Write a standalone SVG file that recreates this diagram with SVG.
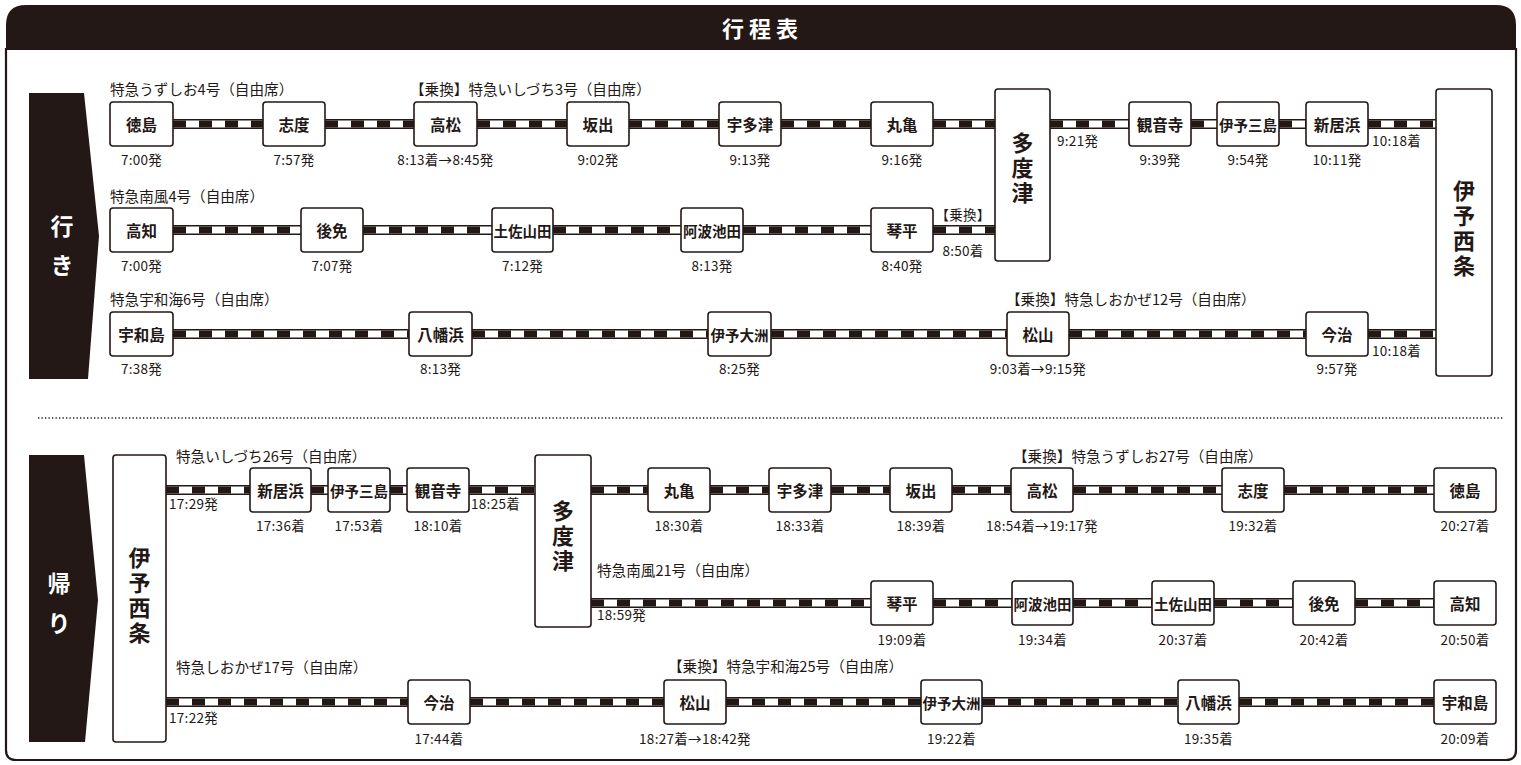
<svg xmlns="http://www.w3.org/2000/svg" width="1521" height="765" viewBox="0 0 1521 765">
<style>
text{font-family:"Noto Sans CJK JP","Noto Sans",sans-serif;fill:#231815;dominant-baseline:central}
.box{fill:#fff;stroke:#231815;stroke-width:1.6}
.st{font-size:15.5px;font-weight:700;text-anchor:middle}
.st4{font-size:14.5px;font-weight:700;text-anchor:middle}
.big{font-size:22px;font-weight:700;text-anchor:middle;writing-mode:vertical-rl;letter-spacing:3px}
.tm{font-size:13.5px;text-anchor:middle;letter-spacing:0.3px}
.ts{font-size:13.5px;text-anchor:start;letter-spacing:0.3px}
.tl{font-size:14.6px;text-anchor:start}
.wt{fill:#fff;font-weight:700;text-anchor:middle}
.to{stroke:#231815;stroke-width:10}
.ti{stroke:#fff;stroke-width:7}
.td{stroke:#231815;stroke-width:7;stroke-dasharray:13 13}
</style>
<rect width="1521" height="765" fill="#fff"/>
<g id="frame">
<path d="M6,48 V750 Q6,760 16,760 H1506 Q1516,760 1516,750 V48" fill="none" stroke="#231815" stroke-width="2.2"/>
<path d="M6,50 V25 Q6,5 26,5 H1496 Q1516,5 1516,25 V50 Z" fill="#231815"/>
<text x="760" y="27" class="wt" font-size="22">行 程 表</text>
<line x1="38" y1="418" x2="1504" y2="418" stroke="#231815" stroke-width="1.3" stroke-dasharray="1.3 2.2"/>
</g>
<g id="dir-go">
<path d="M29,93 H84 L99,236 L88,379 H29 Z" fill="#231815"/>
<text class="wt" font-size="23"><tspan x="62" y="225">行</tspan><tspan x="62" y="264">き</tspan></text>
</g>
<g id="dir-back">
<path d="M29,455 H84 L98,600 L85,742 H29 Z" fill="#231815"/>
<text class="wt" font-size="23"><tspan x="59" y="582">帰</tspan><tspan x="59" y="622">り</tspan></text>
</g>
<g id="connectors">
<g class="to">
<path d="M173,124H263M325,124H414M477,124H567M629,124H719M781,124H871M933,124H995M1050,124H1129M1191,124H1217M1279,124H1306M1368,124H1436"/>
<path d="M173,230H301M363,230H492M553,230H681M743,230H871M933,230H995"/>
<path d="M173,334H409M472,334H708M771,334H1007M1069,334H1306M1368,334H1436"/>
<path d="M166,490H250M311,490H328M390,490H407M469,490H535M591,490H648M710,490H769M831,490H890M952,490H1011M1073,490H1222M1284,490H1434"/>
<path d="M591,603H871M933,603H1012M1073,603H1152M1214,603H1293M1355,603H1434"/>
<path d="M166,702H408M470,702H664M726,702H921M982,702H1178M1239,702H1434"/>
</g>
<g class="ti">
<path d="M173,124H263M325,124H414M477,124H567M629,124H719M781,124H871M933,124H995M1050,124H1129M1191,124H1217M1279,124H1306M1368,124H1436"/>
<path d="M173,230H301M363,230H492M553,230H681M743,230H871M933,230H995"/>
<path d="M173,334H409M472,334H708M771,334H1007M1069,334H1306M1368,334H1436"/>
<path d="M166,490H250M311,490H328M390,490H407M469,490H535M591,490H648M710,490H769M831,490H890M952,490H1011M1073,490H1222M1284,490H1434"/>
<path d="M591,603H871M933,603H1012M1073,603H1152M1214,603H1293M1355,603H1434"/>
<path d="M166,702H408M470,702H664M726,702H921M982,702H1178M1239,702H1434"/>
</g>
<g class="td">
<path d="M173,124H263M325,124H414M477,124H567M629,124H719M781,124H871M933,124H995M1050,124H1129M1191,124H1217M1279,124H1306M1368,124H1436"/>
<path d="M173,230H301M363,230H492M553,230H681M743,230H871M933,230H995"/>
<path d="M173,334H409M472,334H708M771,334H1007M1069,334H1306M1368,334H1436"/>
<path d="M166,490H250M311,490H328M390,490H407M469,490H535M591,490H648M710,490H769M831,490H890M952,490H1011M1073,490H1222M1284,490H1434"/>
<path d="M591,603H871M933,603H1012M1073,603H1152M1214,603H1293M1355,603H1434"/>
<path d="M166,702H408M470,702H664M726,702H921M982,702H1178M1239,702H1434"/>
</g>
</g>
<g id="train-labels">
<text class="tl" x="110" y="88">特急うずしお4号（自由席）</text>
<text class="tl" x="410" y="88">【乗換】特急いしづち3号（自由席）</text>
<text class="tl" x="110" y="195">特急南風4号（自由席）</text>
<text class="tl" x="110" y="298">特急宇和海6号（自由席）</text>
<text class="tl" x="1006" y="298">【乗換】特急しおかぜ12号（自由席）</text>
<text class="tl" x="176" y="455">特急いしづち26号（自由席）</text>
<text class="tl" x="1013" y="455">【乗換】特急うずしお27号（自由席）</text>
<text class="tl" x="597" y="569">特急南風21号（自由席）</text>
<text class="tl" x="176" y="666">特急しおかぜ17号（自由席）</text>
<text class="tl" x="668" y="665">【乗換】特急宇和海25号（自由席）</text>
</g>
<g id="go-tokushima"><rect class="box" x="110" y="102" width="63" height="44" rx="3"/><text class="st" x="141.5" y="124">徳島</text><text class="tm" x="141.5" y="159">7:00発</text></g>
<g id="go-shido"><rect class="box" x="263" y="102" width="62" height="44" rx="3"/><text class="st" x="294" y="124">志度</text><text class="tm" x="294" y="159">7:57発</text></g>
<g id="go-takamatsu"><rect class="box" x="414" y="102" width="63" height="44" rx="3"/><text class="st" x="445.5" y="124">高松</text><text class="tm" x="445.5" y="159">8:13着→8:45発</text></g>
<g id="go-sakaide"><rect class="box" x="567" y="102" width="62" height="44" rx="3"/><text class="st" x="598" y="124">坂出</text><text class="tm" x="598" y="159">9:02発</text></g>
<g id="go-utazu"><rect class="box" x="719" y="102" width="62" height="44" rx="3"/><text class="st" x="750" y="124">宇多津</text><text class="tm" x="750" y="159">9:13発</text></g>
<g id="go-marugame"><rect class="box" x="871" y="102" width="62" height="44" rx="3"/><text class="st" x="902" y="124">丸亀</text><text class="tm" x="902" y="159">9:16発</text></g>
<g id="go-tadotsu"><rect class="box" x="995" y="89" width="55" height="172" rx="3"/><text class="big" x="1022.5" y="169">多度津</text><text class="ts" x="1057" y="140">9:21発</text></g>
<g id="go-kanonji"><rect class="box" x="1129" y="102" width="62" height="44" rx="3"/><text class="st" x="1160" y="124">観音寺</text><text class="tm" x="1160" y="159">9:39発</text></g>
<g id="go-iyomishima"><rect class="box" x="1217" y="102" width="62" height="44" rx="3"/><text class="st4" x="1248" y="124">伊予三島</text><text class="tm" x="1248" y="159">9:54発</text></g>
<g id="go-niihama"><rect class="box" x="1306" y="102" width="62" height="44" rx="3"/><text class="st" x="1337" y="124">新居浜</text><text class="tm" x="1337" y="159">10:11発</text><text class="ts" x="1372" y="140">10:18着</text></g>
<g id="go-iyosaijo"><rect class="box" x="1436" y="89" width="56" height="287" rx="3"/><text class="big" x="1464" y="230">伊予西条</text></g>
<g id="go-kochi"><rect class="box" x="110" y="208" width="63" height="44" rx="3"/><text class="st" x="141.5" y="230">高知</text><text class="tm" x="141.5" y="265">7:00発</text></g>
<g id="go-gomen"><rect class="box" x="301" y="208" width="62" height="44" rx="3"/><text class="st" x="332" y="230">後免</text><text class="tm" x="332" y="265">7:07発</text></g>
<g id="go-tosayamada"><rect class="box" x="492" y="208" width="61" height="44" rx="3"/><text class="st4" x="522.5" y="230">土佐山田</text><text class="tm" x="522.5" y="265">7:12発</text></g>
<g id="go-awaikeda"><rect class="box" x="681" y="208" width="62" height="44" rx="3"/><text class="st4" x="712" y="230">阿波池田</text><text class="tm" x="712" y="265">8:13発</text></g>
<g id="go-kotohira"><rect class="box" x="871" y="208" width="62" height="44" rx="3"/><text class="st" x="902" y="230">琴平</text><text class="tm" x="902" y="265">8:40発</text><text class="tm" x="963" y="214" font-size="14.6">【乗換】</text><text class="tm" x="963" y="250">8:50着</text></g>
<g id="go-uwajima"><rect class="box" x="110" y="312" width="63" height="44" rx="3"/><text class="st" x="141.5" y="334">宇和島</text><text class="tm" x="141.5" y="368">7:38発</text></g>
<g id="go-yawatahama"><rect class="box" x="409" y="312" width="63" height="44" rx="3"/><text class="st" x="440.5" y="334">八幡浜</text><text class="tm" x="440.5" y="368">8:13発</text></g>
<g id="go-iyoozu"><rect class="box" x="708" y="312" width="63" height="44" rx="3"/><text class="st4" x="739.5" y="334">伊予大洲</text><text class="tm" x="739.5" y="368">8:25発</text></g>
<g id="go-matsuyama"><rect class="box" x="1007" y="312" width="62" height="44" rx="3"/><text class="st" x="1038" y="334">松山</text><text class="tm" x="1038" y="368">9:03着→9:15発</text></g>
<g id="go-imabari"><rect class="box" x="1306" y="312" width="62" height="44" rx="3"/><text class="st" x="1337" y="334">今治</text><text class="tm" x="1337" y="368">9:57発</text><text class="ts" x="1372" y="350">10:18着</text></g>
<g id="bk-iyosaijo"><rect class="box" x="113" y="455" width="53" height="287" rx="3"/><text class="big" x="139.5" y="597">伊予西条</text><text class="ts" x="169" y="503">17:29発</text><text class="ts" x="169" y="717">17:22発</text></g>
<g id="bk-niihama"><rect class="box" x="250" y="468" width="61" height="44" rx="3"/><text class="st" x="280.5" y="490">新居浜</text><text class="tm" x="280.5" y="525">17:36着</text></g>
<g id="bk-iyomishima"><rect class="box" x="328" y="468" width="62" height="44" rx="3"/><text class="st4" x="359" y="490">伊予三島</text><text class="tm" x="359" y="525">17:53着</text></g>
<g id="bk-kanonji"><rect class="box" x="407" y="468" width="62" height="44" rx="3"/><text class="st" x="438" y="490">観音寺</text><text class="tm" x="438" y="525">18:10着</text><text class="ts" x="471" y="503">18:25着</text></g>
<g id="bk-tadotsu"><rect class="box" x="535" y="455" width="56" height="172" rx="3"/><text class="big" x="563" y="537">多度津</text><text class="ts" x="597" y="614">18:59発</text></g>
<g id="bk-marugame"><rect class="box" x="648" y="468" width="62" height="44" rx="3"/><text class="st" x="679" y="490">丸亀</text><text class="tm" x="679" y="525">18:30着</text></g>
<g id="bk-utazu"><rect class="box" x="769" y="468" width="62" height="44" rx="3"/><text class="st" x="800" y="490">宇多津</text><text class="tm" x="800" y="525">18:33着</text></g>
<g id="bk-sakaide"><rect class="box" x="890" y="468" width="62" height="44" rx="3"/><text class="st" x="921" y="490">坂出</text><text class="tm" x="921" y="525">18:39着</text></g>
<g id="bk-takamatsu"><rect class="box" x="1011" y="468" width="62" height="44" rx="3"/><text class="st" x="1042" y="490">高松</text><text class="tm" x="1042" y="525">18:54着→19:17発</text></g>
<g id="bk-shido"><rect class="box" x="1222" y="468" width="62" height="44" rx="3"/><text class="st" x="1253" y="490">志度</text><text class="tm" x="1253" y="525">19:32着</text></g>
<g id="bk-tokushima"><rect class="box" x="1434" y="468" width="62" height="44" rx="3"/><text class="st" x="1465" y="490">徳島</text><text class="tm" x="1465" y="525">20:27着</text></g>
<g id="bk-kotohira"><rect class="box" x="871" y="581" width="62" height="44" rx="3"/><text class="st" x="902" y="603">琴平</text><text class="tm" x="902" y="639">19:09着</text></g>
<g id="bk-awaikeda"><rect class="box" x="1012" y="581" width="61" height="44" rx="3"/><text class="st4" x="1042.5" y="603">阿波池田</text><text class="tm" x="1042.5" y="639">19:34着</text></g>
<g id="bk-tosayamada"><rect class="box" x="1152" y="581" width="62" height="44" rx="3"/><text class="st4" x="1183" y="603">土佐山田</text><text class="tm" x="1183" y="639">20:37着</text></g>
<g id="bk-gomen"><rect class="box" x="1293" y="581" width="62" height="44" rx="3"/><text class="st" x="1324" y="603">後免</text><text class="tm" x="1324" y="639">20:42着</text></g>
<g id="bk-kochi"><rect class="box" x="1434" y="581" width="62" height="44" rx="3"/><text class="st" x="1465" y="603">高知</text><text class="tm" x="1465" y="639">20:50着</text></g>
<g id="bk-imabari"><rect class="box" x="408" y="680" width="62" height="44" rx="3"/><text class="st" x="439" y="702">今治</text><text class="tm" x="439" y="738">17:44着</text></g>
<g id="bk-matsuyama"><rect class="box" x="664" y="680" width="62" height="44" rx="3"/><text class="st" x="695" y="702">松山</text><text class="tm" x="695" y="738">18:27着→18:42発</text></g>
<g id="bk-iyoozu"><rect class="box" x="921" y="680" width="61" height="44" rx="3"/><text class="st4" x="951.5" y="702">伊予大洲</text><text class="tm" x="951.5" y="738">19:22着</text></g>
<g id="bk-yawatahama"><rect class="box" x="1178" y="680" width="61" height="44" rx="3"/><text class="st" x="1208.5" y="702">八幡浜</text><text class="tm" x="1208.5" y="738">19:35着</text></g>
<g id="bk-uwajima"><rect class="box" x="1434" y="680" width="62" height="44" rx="3"/><text class="st" x="1465" y="702">宇和島</text><text class="tm" x="1465" y="738">20:09着</text></g>
</svg>
